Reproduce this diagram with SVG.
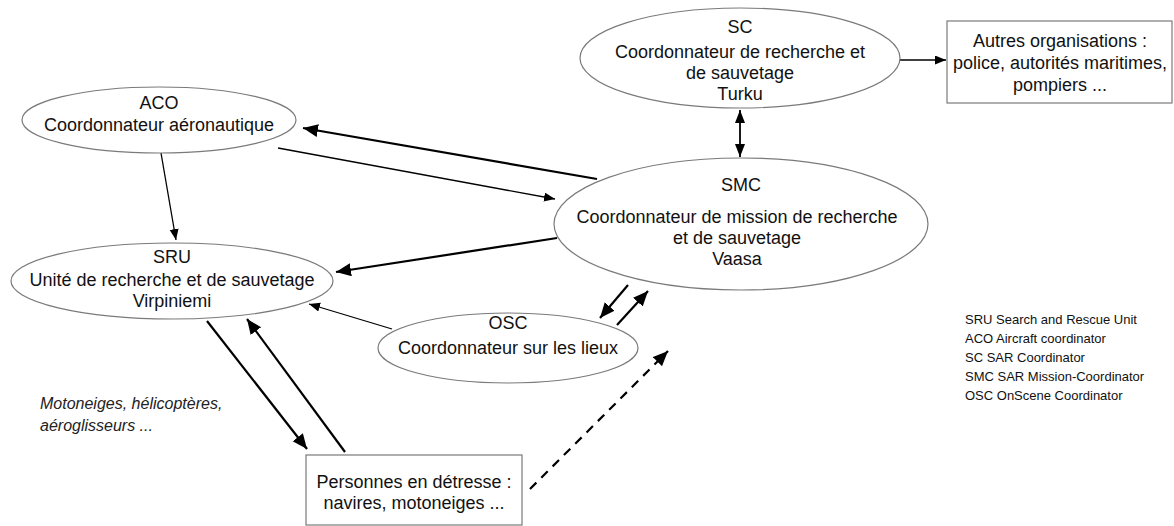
<svg xmlns="http://www.w3.org/2000/svg" width="1174" height="526" viewBox="0 0 1174 526">
<style>
.node{fill:#fff;stroke:#7a7a7a;stroke-width:1.2}
.t{font-family:"Liberation Sans",Arial,sans-serif;font-size:18px;fill:#111;text-anchor:middle}
.it{font-family:"Liberation Sans",Arial,sans-serif;font-size:16px;font-style:italic;fill:#222}
.lg{font-family:"Liberation Sans",Arial,sans-serif;font-size:13px;fill:#111}
.thin{stroke:#000;stroke-width:1.3;fill:none;marker-end:url(#ah)}
.thick{stroke:#000;stroke-width:2.2;fill:none;marker-end:url(#AH)}
.dash{stroke:#000;stroke-width:2.2;fill:none;stroke-dasharray:9 7;marker-end:url(#AH)}
</style>
<defs>
<marker id="ah" markerUnits="userSpaceOnUse" markerWidth="12" markerHeight="10" refX="11" refY="4.5" orient="auto"><path d="M0,0 L11,4.5 L0,9 z" fill="#000"/></marker>
<marker id="AH" markerUnits="userSpaceOnUse" markerWidth="16" markerHeight="14" refX="15" refY="6.5" orient="auto"><path d="M0,0 L15,6.5 L0,13 z" fill="#000"/></marker>
<marker id="dh" markerUnits="userSpaceOnUse" markerWidth="14" markerHeight="12" refX="13" refY="5" orient="auto-start-reverse"><path d="M0,0 L13,5 L0,10 z" fill="#000"/></marker>
</defs>
<rect width="1174" height="526" fill="#fff"/>
<g id="connectors">
<line x1="900" y1="60" x2="946" y2="60" class="thin"/>
<line x1="740" y1="110" x2="740" y2="157" stroke="#000" stroke-width="1.8" marker-start="url(#dh)" marker-end="url(#dh)"/>
<line x1="597" y1="179" x2="303" y2="128" class="thick"/>
<line x1="278" y1="148" x2="555" y2="199" class="thin"/>
<line x1="161" y1="153" x2="176" y2="240" class="thin"/>
<line x1="557" y1="238" x2="336" y2="272" class="thick"/>
<line x1="392" y1="329" x2="309" y2="304" class="thin"/>
<line x1="628" y1="285" x2="600" y2="318" class="thick"/>
<line x1="617" y1="325" x2="648" y2="291" class="thick"/>
<line x1="207" y1="321" x2="307" y2="449" class="thick"/>
<line x1="345" y1="452" x2="247" y2="319" class="thick"/>
<line x1="530" y1="489" x2="668" y2="351" class="dash"/>
</g>
<g id="SC">
<ellipse cx="740" cy="58" rx="160" ry="50" class="node"/>
<text class="t" x="740" y="33">SC</text>
<text class="t" x="740" y="58">Coordonnateur de recherche et</text>
<text class="t" x="740" y="79">de sauvetage</text>
<text class="t" x="740" y="100">Turku</text>
</g>
<g id="autres">
<rect x="947" y="21" width="225" height="82" class="node"/>
<text class="t" x="1060" y="47">Autres organisations :</text>
<text class="t" x="1060" y="69">police, autorités maritimes,</text>
<text class="t" x="1060" y="91">pompiers ...</text>
</g>
<g id="ACO">
<ellipse cx="159" cy="120" rx="137" ry="33" class="node"/>
<text class="t" x="159" y="109">ACO</text>
<text class="t" x="159" y="131">Coordonnateur aéronautique</text>
</g>
<g id="SMC">
<ellipse cx="741" cy="224" rx="187" ry="66" class="node"/>
<text class="t" x="741" y="191">SMC</text>
<text class="t" x="737" y="223">Coordonnateur de mission de recherche</text>
<text class="t" x="737" y="244">et de sauvetage</text>
<text class="t" x="737" y="265">Vaasa</text>
</g>
<g id="SRU">
<ellipse cx="172" cy="281" rx="161" ry="38" class="node"/>
<text class="t" x="172" y="263">SRU</text>
<text class="t" x="172" y="286">Unité de recherche et de sauvetage</text>
<text class="t" x="172" y="307">Virpiniemi</text>
</g>
<g id="OSC">
<ellipse cx="508" cy="348" rx="130" ry="35" class="node"/>
<text class="t" x="508" y="329">OSC</text>
<text class="t" x="508" y="354">Coordonnateur sur les lieux</text>
</g>
<g id="personnes">
<rect x="306" y="455" width="216" height="70" class="node"/>
<text class="t" x="414" y="488">Personnes en détresse :</text>
<text class="t" x="414" y="509">navires, motoneiges ...</text>
</g>
<g id="vehicles">
<text class="it" x="40" y="409">Motoneiges, hélicoptères,</text>
<text class="it" x="40" y="431">aéroglisseurs ...</text>
</g>
<g id="legend">
<text class="lg" x="965" y="324">SRU Search and Rescue Unit</text>
<text class="lg" x="965" y="343">ACO Aircraft coordinator</text>
<text class="lg" x="965" y="362">SC SAR Coordinator</text>
<text class="lg" x="965" y="381">SMC SAR Mission-Coordinator</text>
<text class="lg" x="965" y="400">OSC OnScene Coordinator</text>
</g>
</svg>
